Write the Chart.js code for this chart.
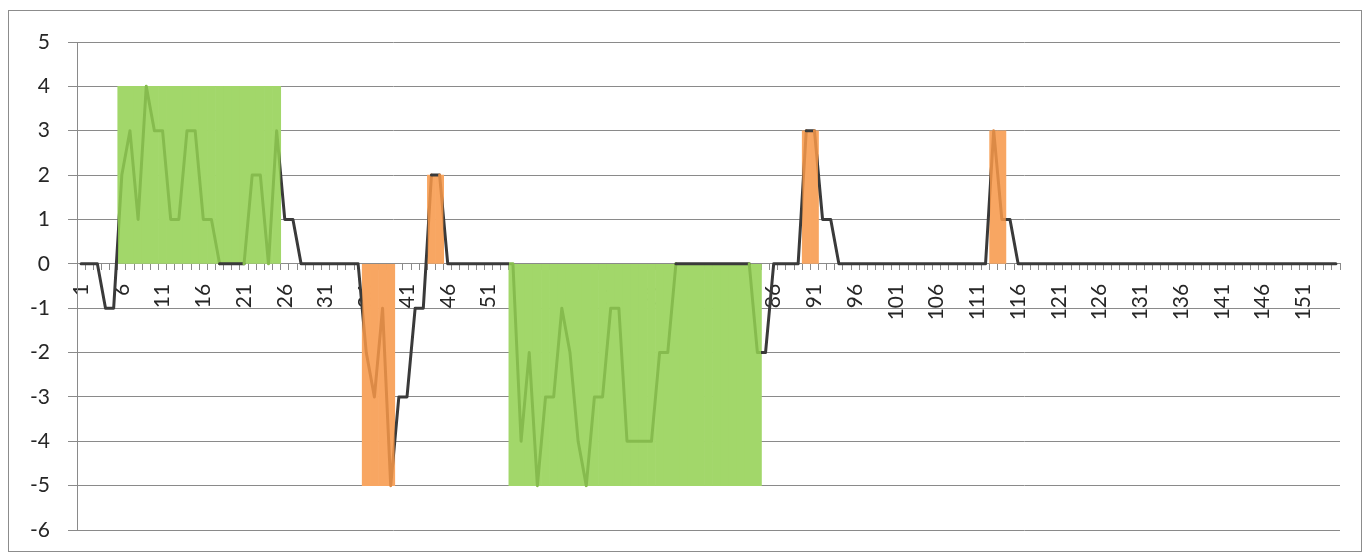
<!DOCTYPE html>
<html>
<head>
<meta charset="utf-8">
<script src="https://cdn.jsdelivr.net/npm/chart.js@4.4.1/dist/chart.umd.min.js"></script>
<style>
  html, body { margin: 0; padding: 0; background: #ffffff; }
  #wrap { position: relative; width: 1364px; height: 556px; }
</style>
</head>
<body>
<div id="wrap"><canvas id="c" width="1364" height="556"></canvas></div>
<script>
const _ = null;

const categories = [
  "1","2","3","4","5","6","7","8","9","10",
  "11","12","13","14","15","16","17","18","19","20",
  "21","22","23","24","25","26","27","28","29","30",
  "31","32","33","34","35","36","37","38","39","40",
  "41","42","43","44","45","46","47","48","49","50",
  "51","52","53","54","55","56","57","58","59","60",
  "61","62","63","64","65","66","67","68","69","70",
  "71","72","73","74","75","76","77","78","79","80",
  "81","82","83","84","85","86","87","88","89","90",
  "91","92","93","94","95","96","97","98","99","100",
  "101","102","103","104","105","106","107","108","109","110",
  "111","112","113","114","115","116","117","118","119","120",
  "121","122","123","124","125","126","127","128","129","130",
  "131","132","133","134","135","136","137","138","139","140",
  "141","142","143","144","145","146","147","148","149","150",
  "151","152","153","154","155"
];

const lineValues = [
  0,0,0,-1,-1,2,3,1,4,3,
  3,1,1,3,3,1,1,0,0,0,
  0,2,2,0,3,1,1,0,0,0,
  0,0,0,0,0,-2,-3,-1,-5,-3,
  -3,-1,-1,2,2,0,0,0,0,0,
  0,0,0,0,-4,-2,-5,-3,-3,-1,
  -2,-4,-5,-3,-3,-1,-1,-4,-4,-4,
  -4,-2,-2,0,0,0,0,0,0,0,
  0,0,0,-2,-2,0,0,0,0,3,
  3,1,1,0,0,0,0,0,0,0,
  0,0,0,0,0,0,0,0,0,0,
  0,0,3,1,1,0,0,0,0,0,
  0,0,0,0,0,0,0,0,0,0,
  0,0,0,0,0,0,0,0,0,0,
  0,0,0,0,0,0,0,0,0,0,
  0,0,0,0,0
];

const greenBand = [
  _,_,_,_,_,4,4,4,4,4,
  4,4,4,4,4,4,4,4,4,4,
  4,4,4,4,4,_,_,_,_,_,
  _,_,_,_,_,_,_,_,_,_,
  _,_,_,_,_,_,_,_,_,_,
  _,_,_,-5,-5,-5,-5,-5,-5,-5,
  -5,-5,-5,-5,-5,-5,-5,-5,-5,-5,
  -5,-5,-5,-5,-5,-5,-5,-5,-5,-5,
  -5,-5,-5,-5,_,_,_,_,_,_,
  _,_,_,_,_,_,_,_,_,_,
  _,_,_,_,_,_,_,_,_,_,
  _,_,_,_,_,_,_,_,_,_,
  _,_,_,_,_,_,_,_,_,_,
  _,_,_,_,_,_,_,_,_,_,
  _,_,_,_,_,_,_,_,_,_,
  _,_,_,_,_
];

const orangeBand = [
  _,_,_,_,_,_,_,_,_,_,
  _,_,_,_,_,_,_,_,_,_,
  _,_,_,_,_,_,_,_,_,_,
  _,_,_,_,_,-5,-5,-5,-5,_,
  _,_,_,2,2,_,_,_,_,_,
  _,_,_,_,_,_,_,_,_,_,
  _,_,_,_,_,_,_,_,_,_,
  _,_,_,_,_,_,_,_,_,_,
  _,_,_,_,_,_,_,_,_,3,
  3,_,_,_,_,_,_,_,_,_,
  _,_,_,_,_,_,_,_,_,_,
  _,_,3,3,_,_,_,_,_,_,
  _,_,_,_,_,_,_,_,_,_,
  _,_,_,_,_,_,_,_,_,_,
  _,_,_,_,_,_,_,_,_,_,
  _,_,_,_,_
];

const yMin = -6;
const yMax = 5;
const labelEvery = 5;

const gridColor = '#8a8a8a';
const textColor = '#262626';
const fontFamily = 'Lato, "Open Sans", "DejaVu Sans", sans-serif';
const lineColor = '#3a3a3a';
const greenFill = '#a2d76a';
const orangeFill = '#f8a662';
const lineInGreen = '#86bb4e';
const lineInOrange = '#dc8a46';

// horizontal gradient: dark line outside bands, tinted line where a band covers it
let bandGradient = null;
function getBandGradient(chart) {
  if (bandGradient) return bandGradient;
  const xs = chart.scales.x;
  const area = chart.chartArea;
  const half = (xs.getPixelForValue(1) - xs.getPixelForValue(0)) / 2;
  const g = chart.ctx.createLinearGradient(area.left, 0, area.right, 0);
  const frac = (px) => Math.min(1, Math.max(0, (px - area.left) / (area.right - area.left)));
  g.addColorStop(0, lineColor);
  const runs = [];
  [[greenBand, lineInGreen], [orangeBand, lineInOrange]].forEach(([band, col]) => {
    let start = -1;
    for (let i = 0; i <= band.length; i++) {
      const on = i < band.length && band[i] !== null;
      if (on && start < 0) start = i;
      if (!on && start >= 0) { runs.push([start, i - 1, col]); start = -1; }
    }
  });
  runs.sort((a, b) => a[0] - b[0]);
  runs.forEach(([s, e, col]) => {
    const l = frac(xs.getPixelForValue(s) - half);
    const r = frac(xs.getPixelForValue(e) + half);
    g.addColorStop(l, lineColor);
    g.addColorStop(Math.min(1, l + 0.0004), col);
    g.addColorStop(Math.max(0, r - 0.0004), col);
    g.addColorStop(r, lineColor);
  });
  g.addColorStop(1, lineColor);
  bandGradient = g;
  return g;
}

function segColor(ctx) {
  const i0 = ctx.p0DataIndex, i1 = ctx.p1DataIndex;
  const v0 = lineValues[i0], v1 = lineValues[i1];
  for (const band of [greenBand, orangeBand]) {
    const b0 = band[i0], b1 = band[i1];
    if (b0 !== null && b1 !== null && v0 === v1 && (v0 === b0 || v0 === 0)) return lineColor;
  }
  return getBandGradient(ctx.chart);
}

const frame = {
  id: 'frame',
  beforeDraw(chart) {
    const ctx = chart.ctx;
    ctx.save();
    ctx.fillStyle = '#ffffff';
    ctx.fillRect(0, 0, chart.width, chart.height);
    ctx.strokeStyle = '#8c8c8c';
    ctx.lineWidth = 1;
    ctx.strokeRect(8.5, 10.5, 1353, 541);
    ctx.restore();
  }
};

new Chart(document.getElementById('c'), {
  type: 'bar',
  data: {
    labels: categories,
    datasets: [
      {
        type: 'line',
        data: lineValues,
        borderColor: lineColor,
        borderWidth: 3,
        pointRadius: 0,
        tension: 0,
        borderJoinStyle: 'round',
        borderCapStyle: 'round',
        segment: { borderColor: segColor },
        order: 1
      },
      {
        type: 'bar',
        data: greenBand,
        backgroundColor: greenFill,
        borderWidth: 0,
        grouped: false,
        barPercentage: 1,
        categoryPercentage: 1,
        order: 3
      },
      {
        type: 'bar',
        data: orangeBand,
        backgroundColor: orangeFill,
        borderWidth: 0,
        grouped: false,
        barPercentage: 1,
        categoryPercentage: 1,
        order: 2
      }
    ]
  },
  options: {
    responsive: false,
    animation: false,
    events: [],
    layout: { padding: { left: 0, top: 42, right: 24, bottom: 26 } },
    plugins: { legend: { display: false }, tooltip: { enabled: false } },
    scales: {
      x: {
        type: 'category',
        position: { y: 0 },
        offset: true,
        grid: { drawOnChartArea: false, drawTicks: true, tickLength: 6, color: gridColor, offset: true },
        border: { display: true, color: gridColor, width: 1 },
        ticks: {
          autoSkip: false,
          maxRotation: 90,
          minRotation: 90,
          padding: 14,
          color: textColor,
          font: { family: fontFamily, size: 21 },
          callback: (v, i) => (i % labelEvery === 0 ? categories[i] : '')
        },
        afterFit: (s) => { s.paddingLeft = 0; s.paddingRight = 0; s.paddingTop = 0; s.paddingBottom = 0; }
      },
      y: {
        min: yMin,
        max: yMax,
        ticks: { stepSize: 1, padding: 18, color: textColor, font: { family: fontFamily, size: 21 } },
        grid: { color: gridColor, tickLength: 9, drawTicks: true },
        border: { display: true, color: gridColor },
        afterFit: (s) => { s.width = 77; s.paddingTop = 0; s.paddingBottom = 0; }
      }
    }
  },
  plugins: [frame]
});
</script>
</body>
</html>
